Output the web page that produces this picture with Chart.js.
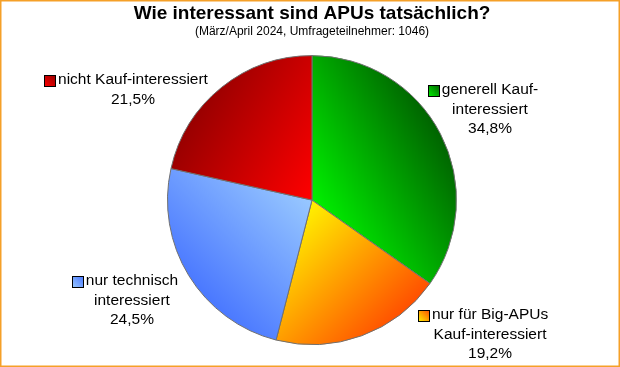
<!DOCTYPE html>
<html lang="de">
<head>
    <meta charset="UTF-8">
    <title>Wie interessant sind APUs tatsächlich?</title>
    <script src="https://cdn.jsdelivr.net/npm/chart.js"></script>
    <style>
        html, body {
            margin: 0;
            padding: 0;
            background: #fff;
        }

        #chart-container {
            width: 620px;
            height: 367px;
        }
    </style>
</head>
<body>
    <div id="chart-container">
        <canvas id="apuChart"></canvas>
    </div>

    <script>
        // Daten
        const categories = [
            ['generell Kauf-', 'interessiert'],
            ['nur für Big-APUs', 'Kauf-interessiert'],
            ['nur technisch', 'interessiert'],
            ['nicht Kauf-interessiert']
        ];
        const shares = [34.8, 19.2, 24.5, 21.5];

        // Verlauf je Segment: hell (Mitte) -> dunkel (Rand), Richtung im Uhrzeigersinn ab 12 Uhr
        const gradientFrom = ['#00f000', '#fff200', '#98c8ff', '#ff0000'];
        const gradientTo = ['#006400', '#ff5000', '#4a78ff', '#990000'];
        const gradientDir = [60, 135, 225, 300];

        // Position der Beschriftung relativ zum Mittelpunkt, in Radien
        const labelX = [1.232, 1.232, -1.246, -1.239];
        const labelY = [-0.761, 0.796, 0.561, -0.830];

        const FONT = '"Liberation Sans", Arial, sans-serif';

        function sliceGradient(ctx, x, y, r, i) {
            const a = gradientDir[i] * Math.PI / 180;
            const g = ctx.createLinearGradient(x, y, x + Math.sin(a) * r, y - Math.cos(a) * r);
            g.addColorStop(0, gradientFrom[i]);
            g.addColorStop(1, gradientTo[i]);
            return g;
        }

        const gradientPlugin = {
            id: 'sliceGradients',
            beforeDatasetsDraw(chart) {
                const meta = chart.getDatasetMeta(0);
                meta.data.forEach((arc, i) => {
                    arc.options.backgroundColor = sliceGradient(chart.ctx, arc.x, arc.y, arc.outerRadius, i);
                });
            }
        };

        const labelPlugin = {
            id: 'sliceLabels',
            afterDatasetsDraw(chart) {
                const ctx = chart.ctx;
                const meta = chart.getDatasetMeta(0);
                const lineH = 19.5;
                ctx.save();
                ctx.font = '15.5px ' + FONT;
                ctx.fillStyle = '#000';
                ctx.textAlign = 'center';
                ctx.textBaseline = 'middle';
                meta.data.forEach((arc, i) => {
                    const r = arc.outerRadius;
                    const cx = arc.x + labelX[i] * r;
                    const cy = arc.y + labelY[i] * r;
                    const lines = categories[i].concat([shares[i].toFixed(1).replace('.', ',') + '%']);
                    lines.forEach((t, k) => ctx.fillText(t, cx, cy + k * lineH));

                    // kleines Legendenkästchen links von der ersten Zeile
                    const w = ctx.measureText(lines[0]).width;
                    const s = 11;
                    const mx = Math.round(cx - w / 2 - 3 - s) + 0.5;
                    const my = Math.round(cy - s / 2) + 0.5;
                    const a = gradientDir[i] * Math.PI / 180;
                    const g = ctx.createLinearGradient(mx, my + s, mx + s, my);
                    g.addColorStop(0, gradientFrom[i]);
                    g.addColorStop(1, gradientTo[i]);
                    ctx.fillStyle = g;
                    ctx.fillRect(mx, my, s, s);
                    ctx.strokeStyle = '#000';
                    ctx.lineWidth = 1;
                    ctx.strokeRect(mx, my, s, s);
                    ctx.fillStyle = '#000';
                });
                ctx.restore();
            },
            afterDraw(chart) {
                const ctx = chart.ctx;
                ctx.save();
                ctx.strokeStyle = '#f5a028';
                ctx.lineWidth = 1.5;
                ctx.strokeRect(0.75, 0.75, chart.width - 1.5, chart.height - 1.5);
                ctx.restore();
            }
        };

        const apuChart = new Chart(document.getElementById('apuChart'), {
            type: 'pie',
            data: {
                labels: categories,
                datasets: [{
                    data: shares,
                    backgroundColor: gradientTo,
                    borderColor: '#707070',
                    borderWidth: 1
                }]
            },
            options: {
                responsive: true,
                maintainAspectRatio: false,
                animation: false,
                radius: 144.5,
                layout: {
                    padding: { top: 0, bottom: 6, left: 4, right: 0 }
                },
                plugins: {
                    legend: { display: false },
                    tooltip: { enabled: false },
                    title: {
                        display: true,
                        text: 'Wie interessant sind APUs tatsächlich?',
                        color: '#000',
                        font: { family: FONT, size: 19, weight: 'bold', lineHeight: 1.2 },
                        padding: { top: 2, bottom: 0 }
                    },
                    subtitle: {
                        display: true,
                        text: '(März/April 2024, Umfrageteilnehmer: 1046)',
                        color: '#000',
                        font: { family: FONT, size: 12, lineHeight: 1.2 },
                        padding: { top: 0, bottom: 0 }
                    }
                }
            },
            plugins: [gradientPlugin, labelPlugin]
        });
    </script>
</body>
</html>
